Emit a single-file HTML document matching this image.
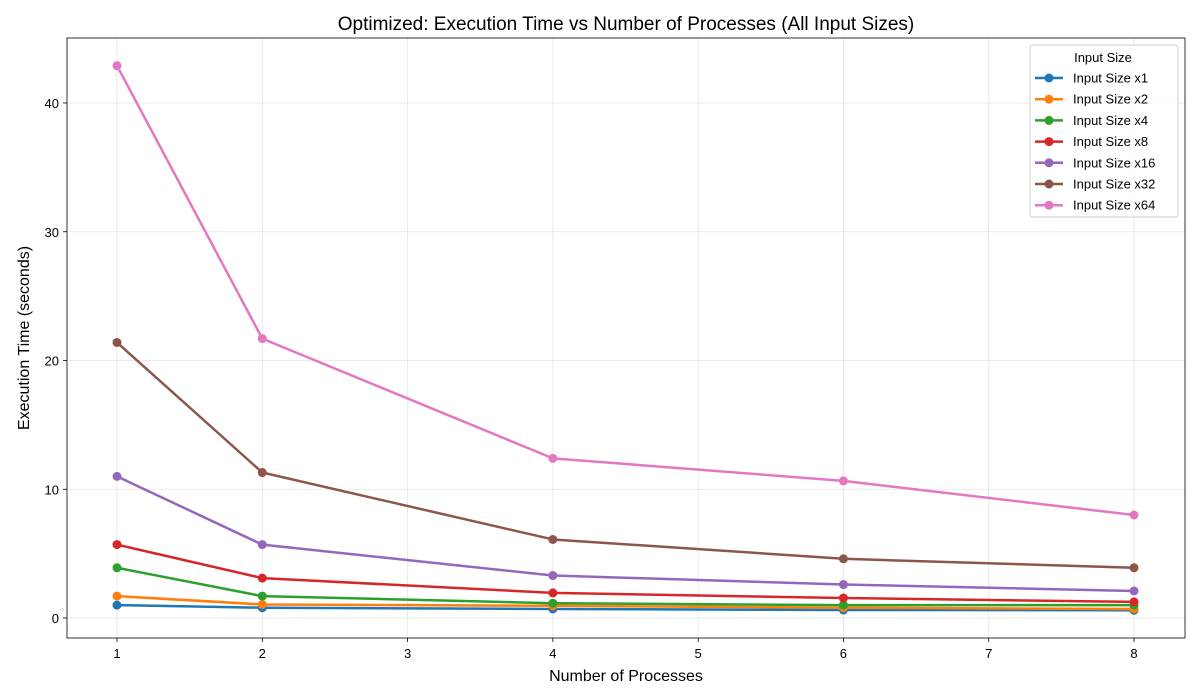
<!DOCTYPE html>
<html><head><meta charset="utf-8"><style>
body{margin:0;background:#fff;}
svg{display:block;font-family:"Liberation Sans","DejaVu Sans",sans-serif;}
</style></head><body>
<svg id="chart" width="1200" height="700" viewBox="0 0 1200 700">
<rect width="1200" height="700" fill="#fff"/>
<text x="626" y="30" font-size="19" text-anchor="middle" fill="#000">Optimized: Execution Time vs Number of Processes (All Input Sizes)</text>
<text x="626" y="681" font-size="16" text-anchor="middle">Number of Processes</text>
<text transform="translate(29,338) rotate(-90)" font-size="16" text-anchor="middle">Execution Time (seconds)</text>
<g id="grid"></g><g id="series"></g><g id="ticks"></g>
<rect x="67" y="38" width="1118" height="600" fill="none" stroke="#000" stroke-width="0.8"/>
<g id="legend"></g>
</svg>
<script>
const processes=[1,2,4,6,8];
const seriesNames=["Input Size x1","Input Size x2","Input Size x4","Input Size x8","Input Size x16","Input Size x32","Input Size x64"];
const s1=[1.0,0.8,0.7,0.62,0.6];
const s2=[1.7,1.05,0.95,0.8,0.7];
const s4=[3.9,1.7,1.15,1.0,1.0];
const s8=[5.7,3.1,1.95,1.55,1.25];
const s16=[11.0,5.7,3.3,2.6,2.1];
const s32=[21.4,11.3,6.1,4.6,3.9];
const s64=[42.9,21.7,12.4,10.65,8.0];
const xTicks=[1,2,3,4,5,6,7,8];
const yTicks=[0,10,20,30,40];
const colors=["#1f77b4","#ff7f0e","#2ca02c","#d62728","#9467bd","#8c564b","#e377c2"];
const allSeries=[s1,s2,s4,s8,s16,s32,s64];
const NS="http://www.w3.org/2000/svg";
const X=v=>117+(v-1)*(1134-117)/7;
const Y=v=>618-v*12.875;
function mk(tag,attrs,parent){const e=document.createElementNS(NS,tag);for(const k in attrs)e.setAttribute(k,attrs[k]);parent.appendChild(e);return e;}
const grid=document.getElementById('grid'),ticks=document.getElementById('ticks'),ser=document.getElementById('series'),leg=document.getElementById('legend');
xTicks.forEach(t=>{
 const g=mk('line',{x1:X(t),x2:X(t),y1:38,y2:638,stroke:'#e5e5e5','stroke-width':0.8},grid);
 
 
 mk('line',{x1:X(t),x2:X(t),y1:638,y2:642,stroke:'#000','stroke-width':0.8},ticks);
 const tx=mk('text',{x:X(t),y:658,'font-size':13,'text-anchor':'middle'},ticks);
 tx.textContent=t;
 
 
});
yTicks.forEach(t=>{
 const g=mk('line',{x1:67,x2:1185,y1:Y(t),y2:Y(t),stroke:'#e5e5e5','stroke-width':0.8},grid);
 
 
 mk('line',{x1:63,x2:67,y1:Y(t),y2:Y(t),stroke:'#000','stroke-width':0.8},ticks);
 const tx=mk('text',{x:59,y:Y(t)+5,'font-size':13,'text-anchor':'end'},ticks);
 tx.textContent=t;
 
 
});
allSeries.forEach((vals,i)=>{
 const g=mk('g',{},ser);
 
 
 mk('polyline',{points:vals.map((v,j)=>X(processes[j])+','+Y(v)).join(' '),fill:'none',stroke:colors[i],'stroke-width':2.5,'stroke-linejoin':'round'},g);
 vals.forEach((v,j)=>{
  const c=mk('circle',{cx:X(processes[j]),cy:Y(v),r:4.5,fill:colors[i]},g);
  
  
 });
});
const lb=mk('rect',{x:1030,y:45,width:148,height:172,rx:3,fill:'#fff','fill-opacity':0.85,stroke:'#ccc'},leg);


const lt=mk('text',{x:1103,y:62,'font-size':13,'text-anchor':'middle'},leg);
lt.textContent='Input Size';


seriesNames.forEach((n,i)=>{
 const y=78+i*21.2;
 const g=mk('g',{},leg);
 
 
 mk('line',{x1:1035,x2:1063,y1:y,y2:y,stroke:colors[i],'stroke-width':2.5},g);
 mk('circle',{cx:1049,cy:y,r:4.5,fill:colors[i]},g);
 const t=mk('text',{x:1073,y:y+4.5,'font-size':13},g);
 t.textContent=n;
});
</script>
</body></html>
